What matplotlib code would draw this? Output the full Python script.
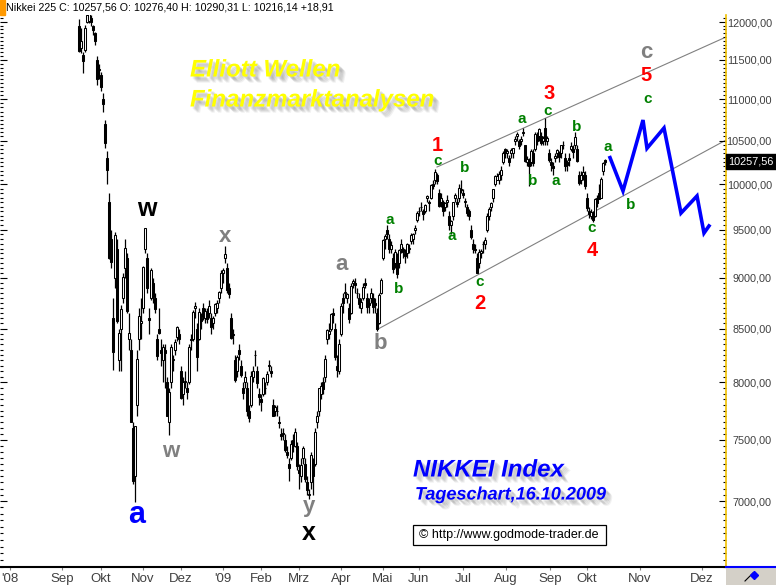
import numpy as np
import matplotlib
matplotlib.use('Agg')
import matplotlib.pyplot as plt
from matplotlib import patheffects as pe
from matplotlib.patches import Rectangle
from matplotlib.ticker import FixedLocator, FuncFormatter, NullFormatter
from matplotlib.transforms import blended_transform_factory

plt.rcParams['font.family'] = ['Liberation Sans', 'DejaVu Sans']

# Nikkei 225 Tageskerzen 16.09.2008 - 16.10.2009 (eine Zeile pro Monat)
opens = [
    11940, 11650, 11560, 11630, 12000, 12010, 12050, 11950, 11850, 11500,
    11380, 11300, 11000, 10700, 10300, 9800, 9400, 8600, 9000, 9300, 8200, 8500, 8800, 9100, 9200, 8400, 8300, 7600, 7200, 7800, 8400, 8550,
    8700, 9300, 9200, 8600, 8800, 8950, 8800, 8400, 8500, 8300, 8200, 8300, 8000, 7650, 8000, 8200, 8300, 8420,
    8450, 8100, 7900, 8000, 7950, 8000, 8400, 8400, 8700, 8500, 8400, 8600, 8700, 8600, 8650, 8650, 8600, 8550, 8650, 8700, 8800,
    8900, 9050, 9200, 9100, 8900, 8600, 8450, 8200, 8100, 8300, 8150, 7950, 8000, 7950, 7750, 7800, 8050, 8250, 8100,
    7900, 7850, 7900, 7950, 8000, 8150, 8100, 7800, 7750, 7750, 7650, 7550, 7550, 7500, 7400, 7300, 7350, 7500, 7450,
    7450, 7250, 7200, 7350, 7300, 7150, 7050, 7150, 7300, 7300, 7650, 7750, 7900, 8000, 8050, 8400, 8450, 8500, 8650, 8500, 8150,
    8100, 8450, 8800, 8850, 8800, 8700, 8650, 8950, 8950, 8850, 8800, 8700, 8800, 8950, 8800, 8750, 8800, 8800, 8750, 8650, 8550,
    8850, 9200, 9400, 9500, 9400, 9300, 9200, 9150, 9200, 9150, 9300, 9300, 9250, 9250, 9300, 9380, 9400, 9500,
    9600, 9700, 9750, 9700, 9700, 9850, 9800, 9850, 10000, 10050, 10100, 9900, 9800, 9800, 9750, 9800, 9650, 9550, 9650, 9850, 9800, 9850,
    9950, 9900, 9800, 9750, 9700, 9500, 9350, 9300, 9200, 9150, 9250, 9350, 9350, 9500, 9650, 9750, 9850, 10000, 10050, 10050, 10100, 10250,
    10400, 10350, 10300, 10350, 10350, 10500, 10550, 10500, 10500, 10600, 10450, 10250, 10250, 10250, 10350, 10400, 10550, 10550, 10550, 10500, 10650,
    10500, 10350, 10250, 10200, 10300, 10350, 10350, 10350, 10450, 10300, 10250, 10300, 10400, 10400, 10450, 10400, 10100, 10050, 10100,
    10100, 9850, 9700, 9650, 9650, 9650, 9850, 9900, 9850, 10150, 10276,
]
highs = [
    12040, 11920, 11600, 11960, 12120, 12140, 12100, 11960, 11860, 11550,
    11450, 11350, 11080, 10750, 10380, 9900, 9500, 8800, 9480, 9400, 8500, 8730, 9050, 9400, 9250, 8650, 8400, 7650, 7620, 8300, 8700, 8800,
    9120, 9520, 9250, 8700, 9100, 9000, 8850, 8450, 8700, 8400, 8350, 8350, 8050, 7950, 8350, 8250, 8400, 8520,
    8500, 8150, 8050, 8100, 8000, 8350, 8450, 8680, 8760, 8550, 8700, 8650, 8750, 8700, 8700, 8780, 8650, 8620, 8750, 8780, 8870,
    9080, 9100, 9325, 9150, 8950, 8650, 8500, 8250, 8250, 8350, 8200, 8000, 8100, 8000, 7800, 8100, 8150, 8300, 8150,
    7950, 7900, 8050, 8000, 8100, 8200, 8150, 7850, 7800, 7800, 7700, 7600, 7600, 7550, 7450, 7350, 7500, 7550, 7600,
    7480, 7300, 7350, 7450, 7350, 7200, 7100, 7400, 7350, 7600, 7750, 7950, 8000, 8050, 8250, 8500, 8550, 8650, 8700, 8550, 8250,
    8400, 8750, 8850, 8950, 8850, 8750, 8950, 8990, 9000, 8900, 8850, 8800, 8950, 9000, 8850, 8800, 8900, 8850, 8800, 8700, 8850,
    9000, 9400, 9450, 9550, 9450, 9380, 9250, 9300, 9250, 9300, 9400, 9320, 9300, 9360, 9350, 9460, 9460, 9550,
    9700, 9750, 9800, 9720, 9780, 9880, 9820, 10000, 10050, 10170, 10120, 9950, 9900, 9820, 9800, 9880, 9700, 9600, 9800, 9900, 9850, 10000,
    10050, 9950, 9850, 9780, 9720, 9550, 9400, 9350, 9250, 9300, 9300, 9380, 9420, 9680, 9750, 9800, 9950, 10100, 10120, 10150, 10200, 10380,
    10420, 10400, 10330, 10420, 10420, 10550, 10600, 10520, 10550, 10650, 10450, 10320, 10300, 10400, 10400, 10600, 10600, 10650, 10600, 10550, 10767,
    10560, 10400, 10300, 10250, 10350, 10400, 10380, 10450, 10500, 10350, 10280, 10350, 10480, 10450, 10600, 10450, 10150, 10150, 10200,
    10150, 9900, 9750, 9720, 9700, 9850, 9880, 10000, 10080, 10250, 10290,
]
lows = [
    11600, 11590, 11330, 11600, 11990, 11980, 11950, 11820, 11690, 11180,
    11250, 11100, 10850, 10420, 10000, 9190, 9100, 8115, 8900, 8550, 8100, 8100, 8750, 9000, 8650, 8300, 7650, 7140, 6995, 7700, 8300, 8400,
    8650, 9250, 8850, 8450, 8780, 8750, 8650, 8200, 8450, 8150, 8000, 7950, 7700, 7540, 7950, 8100, 8250, 8380,
    8350, 7850, 7800, 7950, 7850, 7990, 8300, 8380, 8600, 8100, 8390, 8500, 8580, 8550, 8550, 8600, 8450, 8500, 8620, 8650, 8750,
    8850, 8950, 9150, 8850, 8800, 8400, 8350, 8000, 8050, 8200, 8050, 7850, 7950, 7700, 7650, 7780, 8000, 8150, 7950,
    7800, 7750, 7880, 7900, 7980, 8100, 8050, 7700, 7700, 7700, 7600, 7500, 7500, 7400, 7350, 7160, 7330, 7400, 7440,
    7250, 7100, 7150, 7300, 7150, 7050, 7020, 7100, 7050, 7280, 7600, 7700, 7850, 7900, 8000, 8350, 8400, 8480, 8550, 8200, 8050,
    8080, 8430, 8650, 8800, 8750, 8550, 8640, 8900, 8850, 8800, 8700, 8650, 8780, 8900, 8650, 8650, 8750, 8650, 8650, 8480, 8540,
    8840, 9180, 9300, 9400, 9250, 9250, 9050, 9100, 9000, 9100, 9250, 9200, 9150, 9200, 9250, 9350, 9350, 9450,
    9580, 9650, 9700, 9600, 9680, 9800, 9700, 9830, 9950, 10000, 10000, 9750, 9750, 9650, 9700, 9750, 9500, 9450, 9600, 9800, 9750, 9800,
    9900, 9850, 9750, 9650, 9600, 9400, 9250, 9250, 9050, 9100, 9200, 9250, 9300, 9480, 9600, 9700, 9800, 9980, 10050, 10000, 10050, 10230,
    10300, 10300, 10200, 10300, 10300, 10450, 10500, 10400, 10450, 10550, 10250, 10200, 9980, 10200, 10200, 10380, 10450, 10500, 10450, 10450, 10450,
    10450, 10250, 10150, 10100, 10250, 10300, 10250, 10300, 10400, 10150, 10150, 10200, 10380, 10300, 10400, 10250, 9990, 10000, 10050,
    9950, 9700, 9628, 9620, 9580, 9640, 9750, 9850, 9840, 10100, 10216,
]
closes = [
    11609, 11750, 11489, 11920, 12090, 12115, 12006, 11893, 11743, 11259,
    11368, 11154, 10938, 10473, 10156, 9203, 9157, 8276, 9447, 8577, 8458, 8693, 9005, 9306, 8674, 8460, 7649, 7162, 7621, 8211, 8620, 8576,
    9114, 9521, 8899, 8583, 9081, 8809, 8693, 8238, 8462, 8272, 8328, 8273, 7703, 7910, 8323, 8213, 8373, 8512,
    8397, 7863, 8004, 8016, 7917, 8329, 8395, 8660, 8720, 8235, 8664, 8568, 8612, 8667, 8588, 8723, 8517, 8599, 8739, 8747, 8860,
    9043, 9080, 9239, 8876, 8836, 8413, 8438, 8023, 8230, 8256, 8065, 7901, 8051, 7745, 7682, 8061, 8106, 8251, 7994,
    7873, 7825, 8038, 7950, 8076, 8161, 8082, 7705, 7779, 7750, 7645, 7534, 7557, 7416, 7376, 7268, 7461, 7458, 7568,
    7280, 7229, 7290, 7433, 7173, 7086, 7054, 7376, 7198, 7569, 7704, 7949, 7972, 7945, 8215, 8488, 8479, 8636, 8626, 8236, 8109,
    8351, 8719, 8749, 8857, 8832, 8595, 8916, 8964, 8924, 8842, 8742, 8755, 8907, 8924, 8711, 8727, 8847, 8707, 8726, 8493, 8828,
    8977, 9385, 9432, 9451, 9298, 9340, 9093, 9265, 9038, 9290, 9344, 9264, 9225, 9347, 9310, 9438, 9451, 9522,
    9677, 9704, 9741, 9668, 9768, 9865, 9787, 9991, 9981, 10135, 10039, 9752, 9840, 9703, 9786, 9826, 9549, 9590, 9796, 9877, 9783, 9958,
    9939, 9876, 9816, 9680, 9647, 9420, 9291, 9287, 9050, 9262, 9270, 9344, 9395, 9652, 9723, 9792, 9944, 10088, 10087, 10113, 10165, 10357,
    10352, 10375, 10252, 10389, 10412, 10524, 10585, 10435, 10517, 10597, 10268, 10284, 10204, 10383, 10238, 10581, 10497, 10639, 10473, 10534, 10492,
    10530, 10280, 10214, 10187, 10320, 10393, 10312, 10444, 10444, 10202, 10217, 10270, 10443, 10370, 10544, 10265, 10009, 10100, 10133,
    9978, 9731, 9674, 9691, 9599, 9832, 9790, 9832, 10060, 10238, 10257,
]

# Monatsbeschriftung (Position in Handelstagen ab 16.09.2008)
month_labels = ["'08", "Sep", "Okt", "Nov", "Dez", "'09", "Feb", "Mrz", "Apr",
                "Mai", "Jun", "Jul", "Aug", "Sep", "Okt", "Nov", "Dez"]
month_pos = [-34.5, -8.5, 11, 32, 51, 72, 91, 110, 131, 152, 170, 192, 213.5,
             235.5, 254, 280.5, 311.5]
y_ticks = [7000, 7500, 8000, 8500, 9000, 9500, 10000, 10500, 11000, 11500, 12000]
last_close = 10257.56

# Trendkanal
lower_line_x = [149.2, 323.5]
lower_line_y = [8492, 10508]
upper_line_x = [179, 323.5]
upper_line_y = [10194, 11799]

# Prognose (blau)
proj_x = [265.5, 272, 282, 284, 292.5, 301, 309, 312.5, 315]
proj_y = [10302, 9923, 10747, 10411, 10651, 9679, 9867, 9464, 9540]

# Wellenzaehlung
wave_text = ['a', 'w', 'w', 'x', 'y', 'x', 'a', 'b',
             'a', 'b', 'c', '1', 'a', 'b', 'c', '2',
             'a', 'b', 'c', '3', 'a', 'b', 'c', '4',
             'a', 'b', 'c', '5', 'c']
wave_x = [29, 34, 46, 73, 115, 115, 131.3, 150.5,
          155.2, 159.7, 179.2, 179.2, 186.3, 193, 200.2, 200.2,
          221.3, 226.8, 234.2, 235, 238.3, 248.8, 256.3, 256.8,
          264.2, 275.8, 284.2, 283.5, 283.5]
wave_y = [6892, 9725, 7400, 9423, 6954, 6754, 9131, 8360,
          9599, 8884, 10262, 10449, 9433, 10179, 8954, 8738,
          10756, 10038, 10860, 11067, 10038, 10667, 9521, 9279,
          10422, 9768, 11000, 11293, 11589]
wave_kind = ['blue', 'black', 'gray', 'gray', 'gray', 'black', 'gray', 'gray',
             'green', 'green', 'green', 'red', 'green', 'green', 'green', 'red',
             'green', 'green', 'green', 'red', 'green', 'green', 'green', 'red',
             'green', 'green', 'green', 'red', 'gray']
kind_style = {
    'blue': ('#0000ff', 22),
    'black': ('black', 18),
    'gray': ('#808080', 16),
    'green': ('#008000', 11),
    'red': ('#ff0000', 14.5),
}

W, H = 776, 585
fig = plt.figure(figsize=(W / 100, H / 100), dpi=100)
ax = fig.add_axes([0, 1 - 567 / H, 726 / W, (567 - 15) / H])

idx = np.arange(len(closes))
o = np.array(opens, float)
h = np.array(highs, float)
l = np.array(lows, float)
c = np.array(closes, float)
up = c >= o
lo_b = np.minimum(o, c)
hi_b = np.maximum(o, c)

ax.vlines(idx, l, h, color='black', lw=0.9, zorder=2)
ax.bar(idx[up], hi_b[up] - lo_b[up], bottom=lo_b[up], width=1.2,
       color='white', edgecolor='black', lw=0.75, zorder=3)
ax.bar(idx[~up], hi_b[~up] - lo_b[~up], bottom=lo_b[~up], width=1.2,
       color='black', edgecolor='black', lw=0.75, zorder=3)

ax.plot(lower_line_x, lower_line_y, color='#808080', lw=0.8, zorder=1)
ax.plot(upper_line_x, upper_line_y, color='#808080', lw=0.8, zorder=1)
ax.plot(proj_x, proj_y, color='#0000ff', lw=2.6, zorder=4,
        solid_joinstyle='miter')

for t, x, y, k in zip(wave_text, wave_x, wave_y, wave_kind):
    col, fs = kind_style[k]
    ax.text(x, y, t, color=col, fontsize=fs, fontweight='bold',
            ha='center', va='center', zorder=5)

ax.set_yscale('log')
ax.set_ylim(6500, 12095)
ax.set_xlim(-39.5, 323.5)

ax.yaxis.set_major_locator(FixedLocator(y_ticks))
ax.yaxis.set_major_formatter(FuncFormatter(lambda v, p: f'{v:.2f}'.replace('.', ',')))
ax.yaxis.set_minor_locator(FixedLocator(np.arange(6500, 12100, 50)))
ax.yaxis.set_minor_formatter(NullFormatter())
ax.tick_params(axis='y', which='both', left=True, right=True, labelleft=False,
               labelright=True, direction='in', color='black', width=0.8)
ax.tick_params(axis='y', which='major', length=5, pad=33, labelsize=7.8,
               labelcolor='#404040')
ax.tick_params(axis='y', which='minor', length=2.5)
for lab in ax.get_yticklabels():
    lab.set_horizontalalignment('right')

ax.set_xticks(month_pos)
ax.set_xticklabels(month_labels, fontsize=9.5, color='#404040',
                   family=['Liberation Sans Narrow', 'Liberation Sans'])
ax.tick_params(axis='x', which='major', length=2, pad=2, color='#808080')

for s in ['left', 'top']:
    ax.spines[s].set_visible(False)
ax.spines['bottom'].set_color('black')
ax.spines['bottom'].set_linewidth(1.5)
ax.spines['right'].set_color('#f0c000')
ax.spines['right'].set_linewidth(1.2)

# letzter Kurs
tr = blended_transform_factory(ax.transAxes, ax.transData)
ax.text(1.0 + 25 / 726, last_close, f'{last_close:.2f}'.replace('.', ','),
        transform=tr, ha='center', va='center', color='white', fontsize=7.8,
        bbox=dict(boxstyle='square,pad=0.2', fc='black', ec='black'),
        clip_on=False)

# Titelzeile
fig.patches.append(Rectangle((0, 1 - 15 / H), 5 / W, 15 / H, color='#ff9900',
                             transform=fig.transFigure))
fig.text(6 / W, 1 - 7.5 / H,
         'Nikkei 225 C: 10257,56 O: 10276,40 H: 10290,31 L: 10216,14 +18,91',
         fontsize=7.7, va='center', ha='left')

# weicher Schatten aus mehreren Lagen
shadow = [pe.SimplePatchShadow(offset=(d, -d), shadow_rgbFace='#808080', alpha=a)
          for d, a in [(4.5, 0.10), (3.8, 0.14), (3.0, 0.18), (2.2, 0.18), (1.5, 0.12)]]
shadow.append(pe.Normal())
fig.text(190 / W, 1 - 70 / H, 'Elliott Wellen', color='#ffff00', fontsize=17.3,
         fontweight='bold', style='italic', va='center', path_effects=shadow)
fig.text(190 / W, 1 - 100 / H, 'Finanzmarktanalysen', color='#ffff00',
         fontsize=17.3, fontweight='bold', style='italic', va='center',
         path_effects=shadow)
fig.text(413 / W, 1 - 470 / H, 'NIKKEI Index', color='#0000ff', fontsize=17.3,
         fontweight='bold', style='italic', va='center', path_effects=shadow)
fig.text(415 / W, 1 - 495 / H, 'Tageschart,16.10.2009', color='#0000ff',
         fontsize=13, fontweight='bold', style='italic', va='center',
         path_effects=shadow)

fig.patches.append(Rectangle((413 / W, 1 - 545 / H), 193 / W, 20 / H,
                             fc='white', ec='black', lw=0.9,
                             transform=fig.transFigure))
fig.text(509 / W, 1 - 535 / H, '\u00a9 http://www.godmode-trader.de',
         fontsize=9, ha='center', va='center')

# Ecke unten rechts
fig.patches.append(Rectangle((726 / W, 0), 50 / W, 18 / H, fc='#d4d0c8',
                             ec='none', transform=fig.transFigure))
fig.lines.append(plt.Line2D([726 / W, 1], [1 - 567 / H, 1 - 567 / H],
                            color='#0000ff', lw=1.5, transform=fig.transFigure))
fig.lines.append(plt.Line2D([745 / W, 753 / W], [1 - 581 / H, 1 - 573 / H],
                            color='black', lw=0.8, transform=fig.transFigure))
fig.lines.append(plt.Line2D([754 / W], [1 - 575 / H], marker='D', ms=4,
                            color='#0000ff', transform=fig.transFigure))

fig.savefig('out.png', dpi=100, facecolor='white')
